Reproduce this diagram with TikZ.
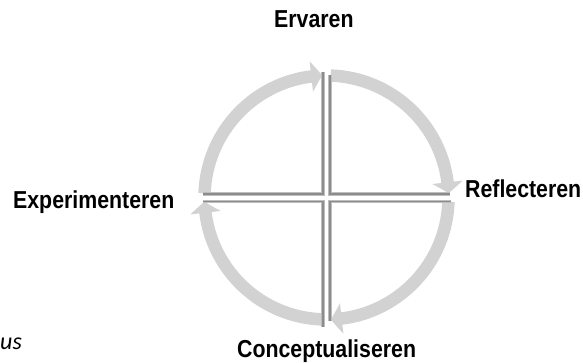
\documentclass[tikz,border=0pt]{standalone}
\usepackage{fontspec}
\setmainfont{Liberation Sans}
\newfontfamily\usfont{Carlito}
\usetikzlibrary{arrows.meta,bending,calc}
\definecolor{bandgray}{RGB}{210,210,210}
\definecolor{linelight}{RGB}{190,190,190}
\definecolor{linedark}{RGB}{140,140,140}
\tikzset{
  arrowband/.style={draw=bandgray,line width=12.5pt,
    -{Triangle[width=30pt,length=11pt,bend]}},
  qlinebg/.style={draw=linelight,line width=3.4pt},
  qlinefg/.style={draw=linedark,line width=1.7pt},
  lbl/.style={font=\bfseries\fontsize{24.5}{29}\selectfont,inner sep=0pt,
    anchor=base west,xscale=0.87}
}
\begin{document}
\begin{tikzpicture}[x=1pt,y=1pt]
\useasboundingbox (0,0) rectangle (583,363);
\coordinate (c) at (326.5,165.5);
% arrows (clockwise)
\draw[arrowband] ($(c)+(178:122pt)$) arc[start angle=178,end angle=92,radius=122pt];
\draw[arrowband] ($(c)+(88:122pt)$) arc[start angle=88,end angle=2,radius=122pt];
\draw[arrowband] ($(c)+(-2:122pt)$) arc[start angle=-2,end angle=-88,radius=122pt];
\draw[arrowband] ($(c)+(-92:122pt)$) arc[start angle=-92,end angle=-178,radius=122pt];
% quadrant lines
\coordinate (tl1) at (323,291); \coordinate (tl2) at (323,169); \coordinate (tl3) at (203,169);
\coordinate (tr1) at (330,288); \coordinate (tr2) at (330,169); \coordinate (tr3) at (450,169);
\coordinate (br1) at (451,161.5); \coordinate (br2) at (330,161.5); \coordinate (br3) at (330,42);
\coordinate (bl1) at (203,161.5); \coordinate (bl2) at (323,161.5); \coordinate (bl3) at (323,36);
\foreach \st in {qlinebg,qlinefg}{
  \draw[\st] (tl1) -- (tl2) -- (tl3);
  \draw[\st] (tr1) -- (tr2) -- (tr3);
  \draw[\st] (br1) -- (br2) -- (br3);
  \draw[\st] (bl1) -- (bl2) -- (bl3);
}
% labels
\node[lbl] (erv) at (274,335) {Ervaren};
\node[lbl] (ref) at (465,165) {Reflecteren};
\node[lbl] (exp) at (13,154) {Experimenteren};
\node[lbl] (con) at (237,5) {Conceptualiseren};
\node[font=\usfont\itshape\fontsize{24}{28}\selectfont,inner sep=0pt,anchor=base west] (us) at (0,13) {us};
\end{tikzpicture}
\end{document}
